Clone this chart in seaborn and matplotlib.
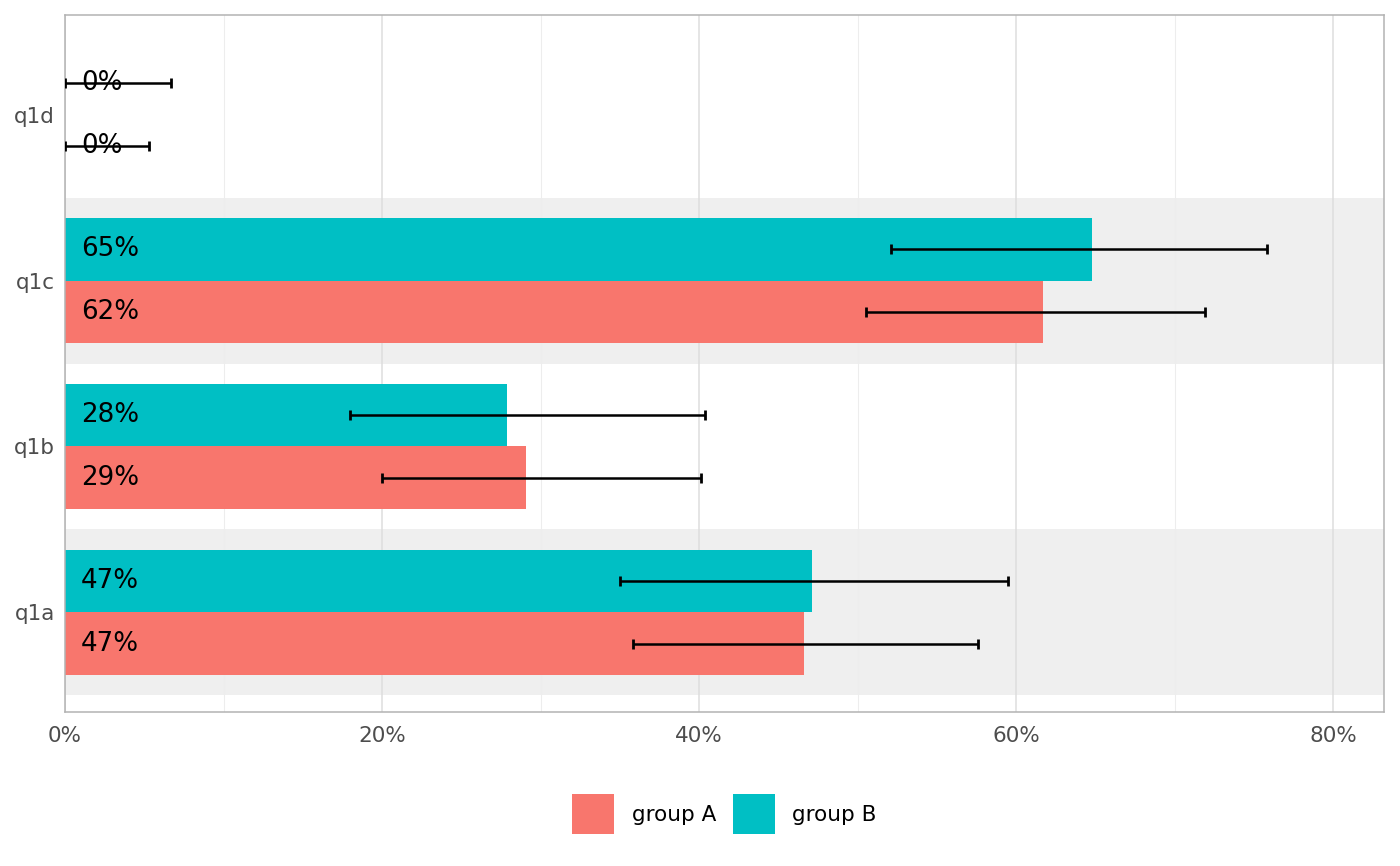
import pandas as pd
import matplotlib
matplotlib.use('Agg')
import matplotlib.pyplot as plt
from matplotlib.patches import Patch
from matplotlib.ticker import MultipleLocator, PercentFormatter
import seaborn as sns

# values (percent)
questions = ['q1a', 'q1b', 'q1c', 'q1d']
groups = ['group A', 'group B']
pct_a = [46.6, 29.1, 61.7, 0.0]
pct_b = [47.1, 27.9, 64.8, 0.0]
low_a = [35.8, 20.0, 50.5, 0.0]
high_a = [57.6, 40.1, 71.9, 5.3]
low_b = [35.0, 18.0, 52.1, 0.0]
high_b = [59.5, 40.4, 75.8, 6.7]
colors = {'group A': '#F8766D', 'group B': '#00BFC4'}

df = pd.DataFrame({
    'question': questions * 2,
    'group': ['group A'] * 4 + ['group B'] * 4,
    'pct': pct_a + pct_b,
    'low': low_a + low_b,
    'high': high_a + high_b,
})

sns.set_style('white')
plt.rcParams['font.family'] = ['DejaVu Sans']

fig = plt.figure(figsize=(14, 8.66), dpi=100)
ax = fig.add_axes([0.0464, 0.1778, 0.9422, 0.8049])

# top to bottom on the axis
order = questions[::-1]
hue_order = ['group B', 'group A']
width = 0.75
offsets = {'group B': -width / 4, 'group A': width / 4}

# alternate stripes behind the bars
for i, q in enumerate(order):
    if q in ('q1a', 'q1c'):
        ax.axhspan(i - 0.5, i + 0.5, color='#EFEFEF', lw=0, zorder=0.1)

sns.barplot(data=df, x='pct', y='question', hue='group', order=order,
            hue_order=hue_order, palette=colors, width=width, saturation=1,
            orient='h', legend=False, ax=ax, zorder=2, linewidth=0,
            edgecolor='none')

for _, r in df.iterrows():
    y = order.index(r['question']) + offsets[r['group']]
    ax.errorbar(r['pct'], y,
                xerr=[[r['pct'] - r['low']], [r['high'] - r['pct']]],
                fmt='none', ecolor='black', elinewidth=1.8, capsize=3.5,
                capthick=2, zorder=4)
    ax.text(1.0, y, f"{r['pct']:.0f}%", fontsize=18.8, color='black',
            ha='left', va='center', zorder=5)

ax.set_xlim(0, 83.2)
ax.set_ylim(3.6, -0.6)
ax.xaxis.set_major_locator(MultipleLocator(20))
ax.xaxis.set_minor_locator(MultipleLocator(10))
ax.xaxis.set_major_formatter(PercentFormatter(decimals=0))
ax.set_axisbelow(True)
ax.grid(axis='x', which='major', color='#DEDEDE', lw=1.1)
ax.grid(axis='x', which='minor', color='#EDEDED', lw=0.8)
ax.grid(axis='y', visible=False)
ax.set_xlabel('')
ax.set_ylabel('')
for s in ax.spines.values():
    s.set_color('#B3B3B3')
    s.set_linewidth(1.1)
ax.tick_params(axis='x', which='major', length=6, width=1, color='#B3B3B3',
               labelsize=15.5, labelcolor='#4D4D4D', pad=4)
ax.tick_params(axis='x', which='minor', length=0)
ax.tick_params(axis='y', length=0, labelsize=15.5, labelcolor='#4D4D4D', pad=7)

handles = [Patch(facecolor=colors[g], edgecolor='none', label=g) for g in groups]
fig.legend(handles=handles, loc='center', bbox_to_anchor=(0.5175, 0.06),
           ncol=2, frameon=False, fontsize=15.5, labelcolor='black',
           handlelength=1.95, handleheight=2.5, handletextpad=0.8,
           columnspacing=0.8)

fig.savefig('out.png', dpi=100)
